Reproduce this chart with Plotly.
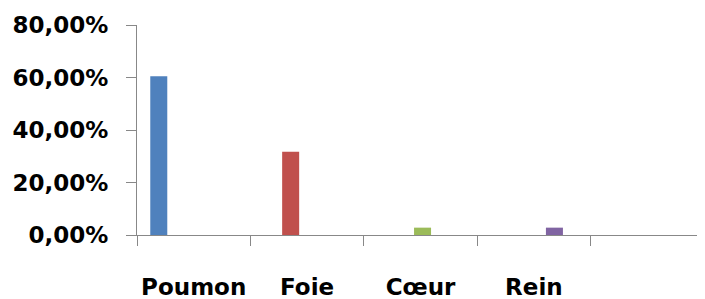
import plotly.graph_objects as go

categories = ["Poumon", "Foie", "Cœur", "Rein", " "]
values = [0.605, 0.317, 0.028, 0.028, None]
colors = ["#4F81BD", "#C0504D", "#9BBB59", "#8064A2", "#4BACC6"]
y_ticks = [0, 0.2, 0.4, 0.6, 0.8]
y_tick_labels = ["0,00%", "20,00%", "40,00%", "60,00%", "80,00%"]

slot = 0.163
bar_w = 0.15
shift = 0.018

fig = go.Figure()
for i, (cat, val, col) in enumerate(zip(categories, values, colors)):
    ys = [val if j == i else None for j in range(len(categories))]
    fig.add_trace(go.Bar(x=categories, y=ys, marker=dict(color=col, line=dict(width=0)),
                         width=bar_w, offset=(i - 2) * slot + shift - bar_w / 2,
                         showlegend=False, name=cat))

font = dict(family="DejaVu Sans", size=23, color="black", weight="bold")
fig.update_layout(
    width=697, height=291,
    margin=dict(l=129, r=1, t=17, b=64),
    paper_bgcolor="white", plot_bgcolor="white",
    barmode="group",
    xaxis=dict(type="category", categoryorder="array", categoryarray=categories,
               range=[-0.5, 4.5], showgrid=False, showline=True, linecolor="#888888",
               linewidth=1, ticks="outside", tickson="boundaries", ticklen=10,
               tickcolor="#888888", tickfont=font, ticklabelstandoff=31, tickangle=0,
               automargin=False),
    yaxis=dict(range=[0, 0.8], tickvals=y_ticks, ticktext=y_tick_labels, showgrid=False,
               showline=True, linecolor="#888888", linewidth=1, ticks="outside",
               ticklen=10, tickcolor="#888888", tickfont=font, ticklabelstandoff=13,
               zeroline=False, automargin=False),
)
fig.write_html("out.html")
